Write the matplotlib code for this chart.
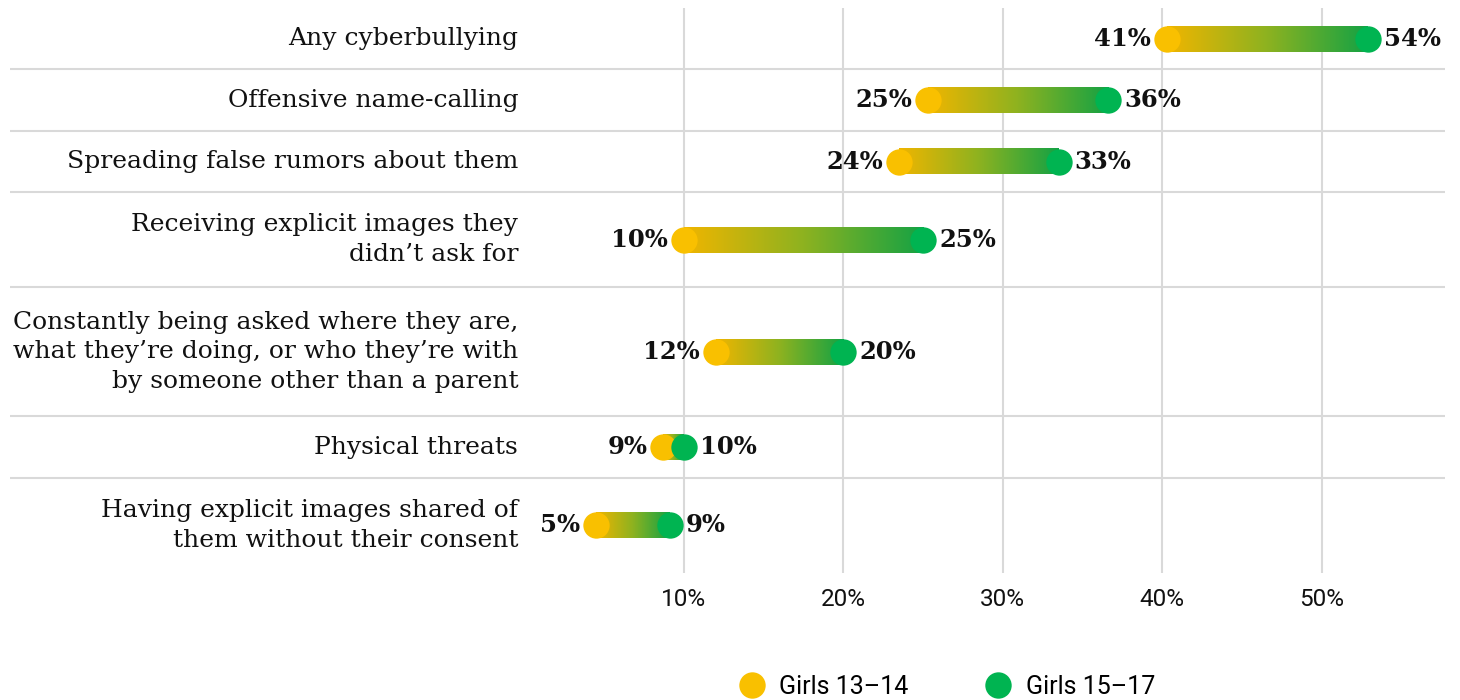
import numpy as np
import matplotlib
matplotlib.use("Agg")
import matplotlib.pyplot as plt
from matplotlib.colors import LinearSegmentedColormap
from matplotlib.lines import Line2D

# categories (top to bottom) and values
categories = [
    "Any cyberbullying",
    "Offensive name-calling",
    "Spreading false rumors about them",
    "Receiving explicit images they\ndidn\u2019t ask for",
    "Constantly being asked where they are,\nwhat they\u2019re doing, or who they\u2019re with\nby someone other than a parent",
    "Physical threats",
    "Having explicit images shared of\nthem without their consent",
]
girls_13_14 = [40.3, 25.3, 23.5, 10.0, 12.0, 8.7, 4.5]
girls_15_17 = [52.9, 36.6, 33.5, 25.0, 20.0, 10.0, 9.1]
labels_13_14 = ["41%", "25%", "24%", "10%", "12%", "9%", "5%"]
labels_15_17 = ["54%", "36%", "33%", "25%", "20%", "10%", "9%"]
tick_vals = [10, 20, 30, 40, 50]
legend_names = ["Girls 13\u201314", "Girls 15\u201317"]

YELLOW = "#F9C000"
GREEN = "#00B451"
GRID = "#D9D9D9"
SERIF = ["DejaVu Serif"]
SANS = ["Roboto", "DejaVu Sans"]

fig = plt.figure(figsize=(14.6, 7), dpi=100)
ax = fig.add_axes([10 / 1460, 127 / 700, 1435 / 1460, 565 / 700])

# row heights depend on the number of label lines
nlines = [c.count("\n") + 1 for c in categories]
heights = [27 + 33 * n for n in nlines]
bounds = np.concatenate([[0], np.cumsum(heights)])
centers = (bounds[:-1] + bounds[1:]) / 2
total = bounds[-1]

grad = LinearSegmentedColormap.from_list("g", ["#F0B500", "#8DB220", "#14A244"])
gimg = np.linspace(0, 1, 256).reshape(1, -1)

for i, cat in enumerate(categories):
    y = centers[i]
    a, b = girls_13_14[i], girls_15_17[i]
    ax.imshow(gimg, cmap=grad, extent=[a, b, y + 12.5, y - 12.5],
              aspect="auto", interpolation="bicubic", zorder=3)
    ax.text(-0.4, y, cat, ha="right", va="center", fontsize=18,
            family=SERIF, color="#111111", linespacing=1.38)
    ax.text(a - 1.0, y, labels_13_14[i], ha="right", va="center",
            fontsize=17.5, fontweight="bold", family=SERIF, color="#111111")
    ax.text(b + 1.0, y, labels_15_17[i], ha="left", va="center",
            fontsize=17.5, fontweight="bold", family=SERIF, color="#111111")

ax.scatter(girls_13_14, centers, s=360, color=YELLOW, zorder=4, linewidths=0)
ax.scatter(girls_15_17, centers, s=360, color=GREEN, zorder=5, linewidths=0)

# row separators and vertical grid
for yb in bounds[1:-1]:
    ax.axhline(yb, color=GRID, lw=1.5, zorder=1)
for t in tick_vals:
    ax.axvline(t, color=GRID, lw=1.5, zorder=1)

ax.set_xlim(-32.28, 57.74)
ax.set_ylim(total, 0)
ax.set_xticks(tick_vals)
ax.set_xticklabels([f"{t}%" for t in tick_vals], family=SANS, fontsize=17.5,
                   color="#111111")
ax.tick_params(axis="x", length=0, pad=11)
ax.set_yticks([])
for s in ax.spines.values():
    s.set_visible(False)

handles = [Line2D([], [], marker="o", ls="", ms=19, color=c, mec="none")
           for c in (YELLOW, GREEN)]
fig.legend(handles, legend_names, loc="center", ncol=2, frameon=False,
           bbox_to_anchor=(946 / 1460, 1 - 687 / 700),
           prop={"family": SANS, "size": 18}, handletextpad=0.5,
           columnspacing=3.0, handlelength=1.2)

fig.savefig("out.png", dpi=100, facecolor="white")
